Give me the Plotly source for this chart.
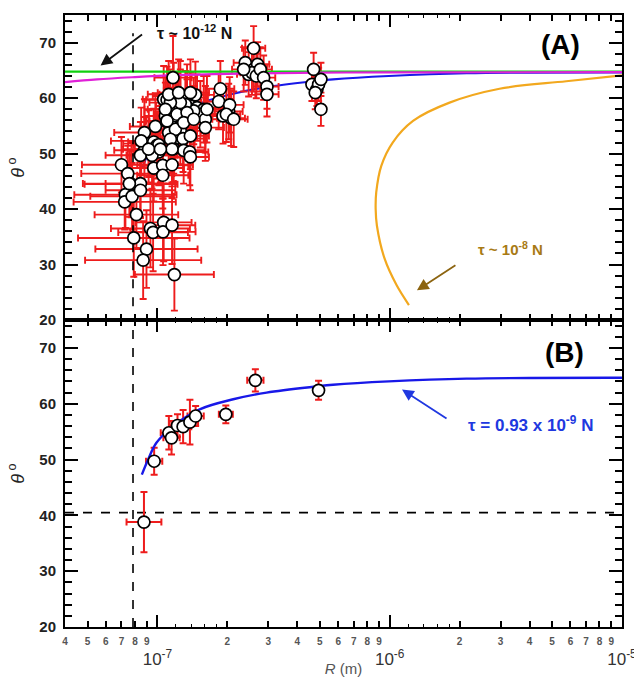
import math
import plotly.graph_objects as go

# ---------------- data (R in units of 1e-7 m) ----------------
# Panel A: all measurements
RA_e7 = [1.167, 1.064, 1.100, 1.175, 1.255, 1.341, 1.457, 1.386, 1.481, 1.582,
         1.530, 1.608, 1.608, 1.433, 1.319, 1.214, 1.118, 1.082, 1.137, 1.195,
         1.276, 1.214, 1.255, 1.341, 1.118, 1.255, 1.175, 1.195, 1.289, 1.386,
         1.175, 1.297, 1.377, 1.386, 0.980, 0.879, 0.879, 0.845, 0.918, 0.964,
         0.996, 1.013, 0.948, 0.964, 1.054, 1.054, 1.156, 0.700, 0.745, 0.770,
         0.728, 0.723, 0.778, 0.845, 0.845, 0.812, 0.791, 0.897, 0.868, 0.933,
         0.958, 1.064, 1.057, 1.156, 1.183, 1.093, 1.137, 1.866, 1.835, 1.916,
         2.027, 2.046, 2.074, 1.980, 2.595, 2.389, 2.470, 2.595, 2.700, 2.553,
         2.665, 2.773, 2.866, 2.962, 2.962, 2.351, 4.703, 4.626, 4.861, 4.942,
         5.057, 4.781, 5.057,
         1.118, 1.234, 1.387, 1.082, 1.634, 1.100, 1.297, 1.433, 0.851, 1.013,
         0.916, 1.137, 1.156, 1.030, 2.130, 0.757]
thetaA = [63.7, 59.8, 59.7, 60.4, 60.7, 60.1, 60.6, 58.6, 58.3, 58.0,
          57.1, 56.2, 54.7, 57.7, 58.9, 58.6, 58.0, 56.8, 55.9, 56.8,
          55.3, 57.1, 59.2, 57.4, 53.8, 54.1, 52.4, 54.4, 52.7, 53.2,
          50.9, 50.6, 50.3, 49.4, 54.9, 53.8, 50.6, 49.7, 51.8, 52.1,
          51.5, 50.3, 49.7, 47.4, 47.9, 46.1, 48.0, 48.0, 46.4, 44.5,
          42.6, 41.3, 42.3, 44.6, 43.4, 39.0, 34.8, 32.8, 30.8, 36.5,
          35.8, 37.6, 35.9, 37.1, 28.2, 55.8, 59.2, 61.7, 59.4, 56.8,
          57.6, 58.8, 56.4, 57.1, 69.0, 66.4, 64.3, 65.2, 66.1, 64.6,
          64.0, 65.2, 63.7, 62.1, 60.7, 65.2, 65.2, 62.5, 61.6, 62.5,
          63.4, 61.0, 58.0,
          60.7, 61.0, 61.0, 58.0, 58.0, 55.9, 55.6, 56.2, 52.3, 51.6,
          50.8, 52.6, 50.8, 50.8, 56.2, 44.6]
thetaA_err = [7.5, 6, 6, 6, 6, 6, 6, 6, 6, 6,
              6, 6, 6, 6, 6, 6, 6, 6, 6, 6,
              6, 6, 6, 6, 6, 6, 6, 6, 6, 6,
              6, 6, 6, 6, 6, 6, 6, 6, 6, 6,
              6, 6, 6, 6, 6, 6, 6, 5, 5, 6,
              6, 5, 6, 6, 5, 6, 7, 7, 7, 7,
              7, 7, 6, 7, 6.5, 6, 6, 5, 5, 5,
              5, 5, 5, 5, 4, 4, 4, 4, 4, 4,
              4, 4, 4, 4, 4, 4, 3, 3, 3, 3,
              3, 3, 3,
              6, 6, 6, 6, 6, 6, 6, 6, 6, 6,
              6, 6, 6, 6, 5, 6]
RA_err_dec = [0.08, 0.09, 0.09, 0.09, 0.09, 0.09, 0.08, 0.08, 0.08, 0.08,
              0.08, 0.08, 0.08, 0.08, 0.09, 0.09, 0.09, 0.09, 0.09, 0.09,
              0.09, 0.09, 0.09, 0.09, 0.09, 0.09, 0.09, 0.09, 0.09, 0.08,
              0.09, 0.09, 0.08, 0.08, 0.11, 0.13, 0.13, 0.15, 0.11, 0.11,
              0.11, 0.11, 0.11, 0.13, 0.11, 0.11, 0.09, 0.17, 0.20, 0.20,
              0.22, 0.22, 0.18, 0.15, 0.15, 0.18, 0.24, 0.22, 0.25, 0.17,
              0.15, 0.12, 0.14, 0.10, 0.17, 0.09, 0.09, 0.06, 0.06, 0.06,
              0.06, 0.06, 0.06, 0.06, 0.05, 0.05, 0.05, 0.05, 0.05, 0.05,
              0.05, 0.05, 0.05, 0.05, 0.05, 0.05, 0.02, 0.02, 0.02, 0.02,
              0.02, 0.02, 0.02,
              0.09, 0.09, 0.08, 0.09, 0.08, 0.09, 0.09, 0.08, 0.13, 0.11,
              0.11, 0.09, 0.09, 0.11, 0.06, 0.20]

# Panel B: averaged data
RB_e7 = [0.875, 0.968, 1.12, 1.15, 1.22, 1.29, 1.38, 1.46, 1.97, 2.64, 4.94]
thetaB = [38.8, 49.7, 54.8, 53.9, 56.1, 55.9, 56.7, 57.8, 58.1, 64.2, 62.4]
thetaB_err = [5.4, 2.4, 3.0, 3.0, 2.0, 3.0, 4.0, 1.8, 1.6, 2.0, 1.7]
RB_err_dec = [0.075, 0.035, 0.035, 0.035, 0.035, 0.035, 0.035, 0.035, 0.03, 0.035, 0.004]

# Model curves
green_R = [4e-8, 1e-5]
green_theta = [64.8, 64.8]
magenta_R = [4e-8, 5.5e-8, 8e-8, 1.2e-7, 2e-7, 5e-7, 1e-6, 1e-5]
magenta_theta = [62.9, 63.4, 63.8, 64.15, 64.4, 64.6, 64.65, 64.7]
blue_R = [8.57e-8, 9.12e-8, 9.9e-8, 1.17e-7, 1.52e-7, 2.12e-7, 2.95e-7, 4.84e-7,
          5.7e-7, 9.9e-7, 2.14e-6, 1e-5]
blue_theta = [47.3, 50.0, 53.0, 56.0, 59.0, 60.8, 62.0, 63.1, 63.4, 64.0, 64.5, 64.65]
orange_R = [1e-5, 5.75e-6, 2.97e-6, 1.81e-6, 1.26e-6, 1.03e-6, 9.2e-7, 8.75e-7,
            8.7e-7, 8.81e-7, 9.5e-7, 1.07e-6, 1.21e-6]
orange_theta = [64.1, 63.05, 61.7, 59.2, 55.9, 52.0, 47.8, 43.0, 40.0, 37.0, 31.1, 26.3, 22.7]

R_crit = 7.85e-8          # vertical dashed line
theta_crit = 40.5         # horizontal dashed line (panel B)
xmin, xmax = 4e-8, 1e-5

# tick definitions
mult_ticks = [m * 10.0 ** e for e in (-8, -7, -6) for m in range(1, 10)]
mult_ticks = [t for t in mult_ticks if xmin * 0.999 <= t <= xmax * 1.001] + [1e-5]
mult_text = [("" if abs(math.log10(t) - round(math.log10(t))) < 1e-6
              else str(int(round(t / 10 ** math.floor(math.log10(t) + 1e-9)))))
             for t in mult_ticks]
sub_ticks = [m * 10.0 ** e for e in (-7, -6) for m in (1.2, 1.4, 1.6, 1.8)]
decades = [1e-7, 1e-6, 1e-5]
decade_text = ["10<sup>-7</sup>", "10<sup>-6</sup>", "10<sup>-5</sup>"]

# ---------------- helpers ----------------
RA = [r * 1e-7 for r in RA_e7]
RB = [r * 1e-7 for r in RB_e7]
RA_plus = [r * (10 ** d - 1) for r, d in zip(RA, RA_err_dec)]
RA_minus = [r * (1 - 10 ** -d) for r, d in zip(RA, RA_err_dec)]
RB_plus = [r * (10 ** d - 1) for r, d in zip(RB, RB_err_dec)]
RB_minus = [r * (1 - 10 ** -d) for r, d in zip(RB, RB_err_dec)]

RED = "#ee1c1c"
FONT = "Liberation Sans, Arial, sans-serif"

fig = go.Figure()

def err_trace(x, y, xp, xm, ye, xa, ya, th):
    return go.Scatter(x=x, y=y, mode="markers", xaxis=xa, yaxis=ya,
                      marker=dict(size=2, opacity=0),
                      error_x=dict(type="data", symmetric=False, array=xp, arrayminus=xm,
                                   color=RED, thickness=th, width=3.5),
                      error_y=dict(type="data", array=ye, color=RED, thickness=th, width=3.5),
                      showlegend=False, hoverinfo="skip")

def line(x, y, color, w, xa, ya, dash=None, shape="linear"):
    return go.Scatter(x=x, y=y, mode="lines", xaxis=xa, yaxis=ya,
                      line=dict(color=color, width=w, dash=dash, shape=shape),
                      showlegend=False, hoverinfo="skip")

marker_style = dict(size=12, color="white", line=dict(color="black", width=1.7))

# Panel A (x, y)
fig.add_trace(line(blue_R, blue_theta, "#1818e8", 2.2, "x", "y", shape="spline"))
fig.add_trace(err_trace(RA, thetaA, RA_plus, RA_minus, thetaA_err, "x", "y", 1.9))
fig.add_trace(line(green_R, green_theta, "#10d010", 2.2, "x", "y"))
fig.add_trace(line(magenta_R, magenta_theta, "#e020d8", 2.2, "x", "y", shape="spline"))
fig.add_trace(line(orange_R, orange_theta, "#f2a81e", 2.2, "x", "y", shape="spline"))
fig.add_trace(line([R_crit, R_crit], [22.5, 71.7], "black", 1.6, "x", "y", dash="dash"))
fig.add_trace(go.Scatter(x=RA, y=thetaA, mode="markers", xaxis="x", yaxis="y",
                         marker=marker_style, showlegend=False))

# Panel B (x2, y2)
fig.add_trace(line([R_crit, R_crit], [20, 75], "black", 1.6, "x2", "y2", dash="dash"))
fig.add_trace(line([xmin, xmax], [theta_crit, theta_crit], "black", 1.6, "x2", "y2", dash="dash"))
fig.add_trace(err_trace(RB, thetaB, RB_plus, RB_minus, thetaB_err, "x2", "y2", 2))
fig.add_trace(line(blue_R, blue_theta, "#1818e8", 2.4, "x2", "y2", shape="spline"))
fig.add_trace(go.Scatter(x=RB, y=thetaB, mode="markers", xaxis="x2", yaxis="y2",
                         marker=marker_style, showlegend=False))

# dummy traces so the overlay decade axes render
fig.add_trace(go.Scatter(x=[1e-6], y=[50], mode="markers", xaxis="x3", yaxis="y2",
                         marker=dict(opacity=0), showlegend=False, hoverinfo="skip"))
fig.add_trace(go.Scatter(x=[1e-6], y=[50], mode="markers", xaxis="x4", yaxis="y",
                         marker=dict(opacity=0), showlegend=False, hoverinfo="skip"))

xr = [math.log10(xmin), math.log10(xmax) + 1e-4]
split = 0.5016

base_x = dict(type="log", range=xr, showgrid=False, zeroline=False, automargin=False,
              showline=True, linecolor="black", linewidth=2, mirror="ticks",
              ticks="inside", tickmode="array", tickvals=mult_ticks, ticklen=6,
              tickwidth=1.5, tickcolor="black",
              minor=dict(tickmode="array", tickvals=sub_ticks, ticklen=3, tickwidth=1,
                         tickcolor="black", ticks="inside"))
dec_x = dict(type="log", range=xr, showgrid=False, zeroline=False, showline=False,
             automargin=False,
             ticks="inside", tickmode="array", tickvals=decades, ticklen=12,
             tickwidth=1.8, tickcolor="black", mirror="ticks")
base_y = dict(range=[20, 75], showgrid=False, zeroline=False, showline=True, automargin=False,
              linecolor="black", linewidth=2, mirror="ticks", ticks="inside",
              tickmode="array", tickvals=[20, 30, 40, 50, 60, 70], ticklen=13,
              tickwidth=2, tickcolor="black",
              tickfont=dict(family=FONT, size=15, color="#222", weight="bold"),
              ticklabelstandoff=4,
              minor=dict(dtick=2, ticklen=7, tickwidth=1.5, tickcolor="black", ticks="inside"),
              title=dict(text="<i>θ</i><sup> o</sup>", font=dict(family=FONT, size=18, color="#222"),
                         standoff=10))

def label(text, x, y, size, color):
    return dict(text=text, xref="paper", yref="paper", x=x, y=y, xanchor="center",
                yanchor="middle", showarrow=False, font=dict(family=FONT, size=size, color=color))

def arrow(xa, ya, x, y, ax, ay, color):
    return dict(text="", xref=xa, yref=ya, x=math.log10(x), y=y, ax=ax, ay=ay,
                showarrow=True, arrowhead=2, arrowsize=1.3, arrowwidth=1.8, arrowcolor=color)

fig.update_layout(
    width=634, height=682,
    margin=dict(l=65, r=12, t=15, b=55),
    paper_bgcolor="white", plot_bgcolor="white",
    xaxis=dict(base_x, anchor="y", showticklabels=False, ticktext=mult_text),
    xaxis2=dict(base_x, anchor="y2", ticktext=mult_text, showticklabels=True,
                tickfont=dict(family=FONT, size=10, color="#555", weight="bold"),
                ticklabelstandoff=4,
                title=dict(text="<i>R</i> (m)", font=dict(family=FONT, size=15, color="#555"),
                           standoff=17)),
    xaxis3=dict(dec_x, overlaying="x2", anchor="y2", ticktext=decade_text,
                showticklabels=True, tickfont=dict(family=FONT, size=17, color="#333"),
                ticklabelstandoff=20, ticklabeloverflow="allow"),
    xaxis4=dict(dec_x, overlaying="x", anchor="y", showticklabels=False),
    yaxis=dict(base_y, domain=[split, 1], anchor="x"),
    yaxis2=dict(base_y, domain=[0, split], anchor="x2"),
    annotations=[
        label("<b>(A)</b>", 0.889, 0.951, 28, "black"),
        label("<b>(B)</b>", 0.896, 0.448, 28, "black"),
        label("<b>τ ~ 10<sup>-12</sup> N</b>", 0.232, 0.972, 16, "#111"),
        arrow("x", "y", 5.69e-8, 65.9, 43, -32, "#111"),
        label("<b>τ ~ 10<sup>-8</sup> N</b>", 0.799, 0.619, 15, "#a87a14"),
        arrow("x", "y", 1.31e-6, 25.35, 40, -26, "#8c6410"),
        label("<b>τ = 0.93 x 10<sup>-9</sup> N</b>", 0.835, 0.332, 17, "#2038e0"),
        arrow("x2", "y2", 1.13e-6, 62.55, 46, 30, "#2038e0"),
    ],
)

fig.write_html("out.html")
